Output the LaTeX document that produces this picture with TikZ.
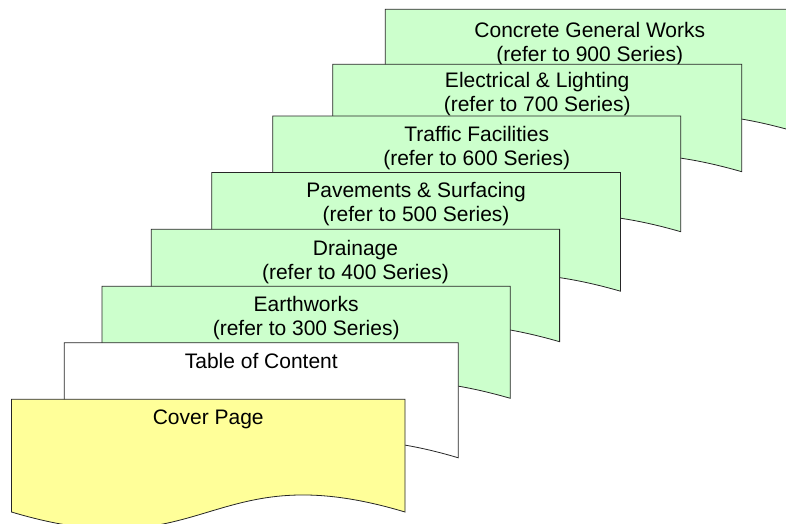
\documentclass[tikz,border=0pt]{standalone}
\usepackage{fontspec}
\setmainfont{Liberation Sans}
\usepackage{tikz}

\definecolor{pagegreen}{RGB}{204,255,204}
\definecolor{pageyellow}{RGB}{255,255,153}

\tikzset{
  docshape/.style={draw=black!85, line width=0.8pt, line join=miter},
  doclabel/.style={anchor=base, inner sep=0pt, align=center,
    font=\fontsize{21}{24.3}\selectfont}
}

% #1 name, #2 left, #3 top, #4 width, #5 height, #6 fill, #7 last baseline, #8 text
\newcommand{\docpage}[8]{%
  \filldraw[docshape, fill=#6] (#2,#3) -- (#2+#4,#3) -- (#2+#4,#3+#5)
    .. controls +(-#4/2,-59) and +(#4/2,59) .. (#2,#3+#5) -- cycle;
  \node[doclabel] (#1) at (#2+#4/2,#7) {#8};
}

\begin{document}
\begin{tikzpicture}[x=1pt, y=-1pt]
        \useasboundingbox (0,0) rectangle (786,523);
        \clip (0,0) rectangle (786,523);

        % back to front
        \docpage{concrete}{385.3}{9.3}{409}{122}{pagegreen}{61.5}{Concrete General Works\\(refer to 900 Series)}
        \docpage{elec}{332.7}{64.3}{409}{107.4}{pagegreen}{111.6}{Electrical \& Lighting\\(refer to 700 Series)}
        \docpage{traffic}{272.7}{116}{408}{115.7}{pagegreen}{165.8}{Traffic Facilities\\(refer to 600 Series)}
        \docpage{pave}{211.7}{172.5}{408.8}{118.7}{pagegreen}{221.6}{Pavements \& Surfacing\\(refer to 500 Series)}
        \docpage{drain}{151.3}{229.3}{408.3}{112.4}{pagegreen}{279.3}{Drainage\\(refer to 400 Series)}
        \docpage{earth}{102}{286.3}{408.3}{112}{pagegreen}{335.3}{Earthworks\\(refer to 300 Series)}
        \docpage{toc}{64.3}{342.8}{394}{115}{white}{368.3}{Table of Content}
        \docpage{cover}{11.5}{399.3}{393.5}{112.7}{pageyellow}{424.3}{Cover Page}
    \end{tikzpicture}
\end{document}
